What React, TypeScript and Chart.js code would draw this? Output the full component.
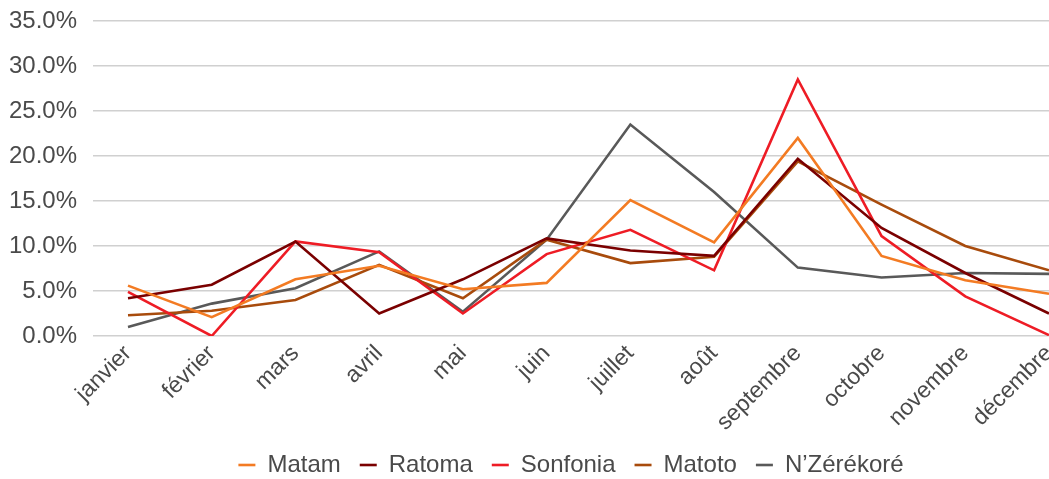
import React, { useEffect, useRef } from "react";
import { Chart, registerables } from "chart.js";

Chart.register(...registerables);

const months = ["janvier", "février", "mars", "avril", "mai", "juin", "juillet", "août", "septembre", "octobre", "novembre", "décembre"];
const yTicks = [0, 5, 10, 15, 20, 25, 30, 35];

const matam = [5.6, 2.1, 6.3, 7.8, 5.2, 5.9, 15.1, 10.4, 22.0, 8.9, 6.2, 4.7];
const ratoma = [4.2, 5.7, 10.5, 2.5, 6.3, 10.85, 9.5, 8.9, 19.7, 12.0, 7.0, 2.5];
const sonfonia = [4.9, 0.0, 10.5, 9.3, 2.5, 9.1, 11.8, 7.3, 28.5, 11.1, 4.4, 0.1];
const matoto = [2.3, 2.8, 4.0, 7.9, 4.2, 10.7, 8.1, 8.8, 19.4, 14.6, 10.0, 7.3];
const nzerekore = [1.0, 3.6, 5.3, 9.4, 2.7, 10.7, 23.5, 16.0, 7.6, 6.5, 7.0, 6.9];

const seriesNames = ["Matam", "Ratoma", "Sonfonia", "Matoto", "N’Zérékoré"];
const seriesValues = [matam, ratoma, sonfonia, matoto, nzerekore];
const seriesColors = ["#F37B23", "#7A0000", "#EE1C25", "#A84B0C", "#595959"];

const FONT = "'Liberation Sans', Arial, sans-serif";
const TEXT = "#4a4a4a";

export default function App() {
  const ref = useRef<HTMLCanvasElement | null>(null);
  useEffect(() => {
    const canvas = ref.current;
    if (!canvas) return;
    const chart = new Chart(canvas, {
      type: "line",
      data: {
        datasets: seriesNames.map((name, i) => ({
          label: name,
          data: seriesValues[i].map((v, j) => ({ x: j, y: v })),
          borderColor: seriesColors[i],
          backgroundColor: seriesColors[i],
          borderWidth: 2.6,
          pointRadius: 0,
          tension: 0,
        })),
      },
      options: {
        animation: false,
        responsive: false,
        maintainAspectRatio: false,
        layout: { padding: { top: 21, right: 0, bottom: -8, left: 0 } },
        plugins: {
          tooltip: { enabled: false },
          legend: {
            position: "bottom",
            fullSize: false,
            labels: {
              usePointStyle: true,
              pointStyle: "line",
              pointStyleWidth: 17,
              boxHeight: 24,
              padding: 19,
              color: TEXT,
              font: { family: FONT, size: 24 },
            },
          },
        },
        scales: {
          x: {
            type: "linear",
            min: -0.418,
            max: 11,
            clip: false,
            grid: { display: false },
            border: { display: false },
            afterBuildTicks: (axis: any) => {
              axis.ticks = months.map((_, i) => ({ value: i }));
            },
            afterFit: (scale: any) => {
              scale.height = 98;
              scale.paddingLeft = 0;
              scale.paddingRight = 0;
            },
            ticks: {
              autoSkip: false,
              minRotation: 45,
              maxRotation: 45,
              padding: -4,
              color: TEXT,
              font: { family: FONT, size: 23 },
              callback: (v: any) => months[v as number] ?? "",
            },
          },
          y: {
            min: 0,
            max: 35,
            afterBuildTicks: (axis: any) => {
              axis.ticks = yTicks.map((v) => ({ value: v }));
            },
            afterFit: (scale: any) => {
              scale.width = 93;
              scale.paddingTop = 0;
              scale.paddingBottom = 0;
            },
            grid: { color: "#D0D0D0", lineWidth: 1.5, drawTicks: false },
            border: { display: false },
            ticks: {
              padding: 16,
              color: TEXT,
              font: { family: FONT, size: 24 },
              callback: (v: any) => Number(v).toFixed(1) + "%",
            },
          },
        },
      },
    });
    return () => chart.destroy();
  }, []);
  return (
    <div style={{ position: "fixed", left: 0, top: 0, width: 1049, height: 479, background: "#fff" }}>
      <canvas ref={ref} width={1049} height={479} style={{ width: 1049, height: 479 }} />
    </div>
  );
}
